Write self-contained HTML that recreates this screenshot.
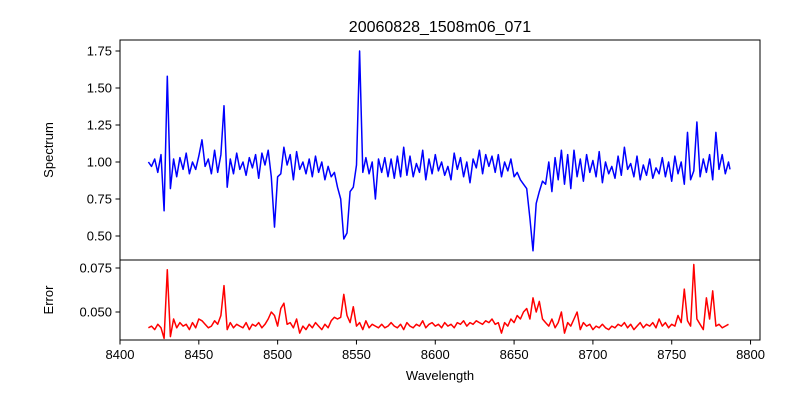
<!DOCTYPE html>
<html><head><meta charset="utf-8"><style>
html,body{margin:0;padding:0;background:#fff}
svg{display:block;font-family:"Liberation Sans","DejaVu Sans",sans-serif}
</style></head><body>
<svg id="chart" width="800" height="400" viewBox="0 0 800 400">
<rect width="800" height="400" fill="#fff"/>
<text x="440" y="32" text-anchor="middle" font-size="16" fill="#000">20060828_1508m06_071</text>
<g id="g"></g>
<text x="440" y="380" text-anchor="middle" font-size="13" fill="#000">Wavelength</text>
<text transform="translate(53,150) rotate(-90)" text-anchor="middle" font-size="13">Spectrum</text>
<text transform="translate(53,300) rotate(-90)" text-anchor="middle" font-size="13">Error</text>
</svg>
<script>
const wavelengths=[8418,8420,8422,8424,8426,8428,8430,8432,8434,8436,8438,8440,8442,8444,8446,8448,8450,8452,8454,8456,8458,8460,8462,8464,8466,8468,8470,8472,8474,8476,8478,8480,8482,8484,8486,8488,8490,8492,8494,8496,8498,8500,8502,8504,8506,8508,8510,8512,8514,8516,8518,8520,8522,8524,8526,8528,8530,8532,8534,8536,8538,8540,8542,8544,8546,8548,8550,8552,8554,8556,8558,8560,8562,8564,8566,8568,8570,8572,8574,8576,8578,8580,8582,8584,8586,8588,8590,8592,8594,8596,8598,8600,8602,8604,8606,8608,8610,8612,8614,8616,8618,8620,8622,8624,8626,8628,8630,8632,8634,8636,8638,8640,8642,8644,8646,8648,8650,8652,8654,8656,8658,8660,8662,8664,8666,8668,8670,8672,8674,8676,8678,8680,8682,8684,8686,8688,8690,8692,8694,8696,8698,8700,8702,8704,8706,8708,8710,8712,8714,8716,8718,8720,8722,8724,8726,8728,8730,8732,8734,8736,8738,8740,8742,8744,8746,8748,8750,8752,8754,8756,8758,8760,8762,8764,8766,8768,8770,8772,8774,8776,8778,8780,8782,8784,8786,8787];
const spectrum=[1.00,0.97,1.02,0.93,1.05,0.67,1.58,0.82,1.02,0.90,1.03,0.95,1.06,0.92,1.00,0.95,1.04,1.15,0.97,1.02,0.92,1.08,0.93,1.05,1.38,0.83,1.02,0.92,1.06,0.95,1.00,0.91,1.03,0.96,1.05,0.89,1.06,0.98,1.08,0.90,0.56,0.90,0.92,1.10,0.98,1.05,0.88,1.07,0.95,1.00,0.92,1.02,0.90,1.04,0.93,1.00,0.88,0.97,0.90,0.93,0.83,0.75,0.48,0.52,0.80,0.83,0.98,1.75,0.93,1.03,0.92,1.00,0.75,1.02,0.93,1.03,0.90,1.02,0.89,1.04,0.90,1.10,0.91,1.04,0.90,0.99,0.93,1.08,0.88,1.02,0.92,1.05,0.94,1.00,0.91,0.97,0.88,1.06,0.95,1.03,0.90,1.00,0.86,1.02,0.96,1.08,0.92,1.05,0.97,1.04,0.93,1.05,0.90,1.00,0.94,1.02,0.90,0.93,0.88,0.85,0.82,0.62,0.40,0.72,0.80,0.87,0.85,1.00,0.80,1.03,0.88,1.08,0.85,1.05,0.82,1.08,0.90,1.02,0.87,1.05,0.93,1.01,0.90,1.07,0.86,1.00,0.92,0.97,0.89,1.04,0.91,1.10,0.95,0.99,0.90,1.04,0.88,0.98,0.91,1.02,0.89,0.96,0.92,1.03,0.90,1.00,0.87,1.04,0.92,1.00,0.85,1.20,0.88,0.94,1.27,0.90,1.02,0.93,1.05,0.88,1.20,0.95,1.05,0.92,1.00,0.95];
const errors=[0.041,0.042,0.040,0.043,0.041,0.035,0.074,0.036,0.046,0.041,0.044,0.042,0.043,0.040,0.044,0.041,0.046,0.045,0.043,0.041,0.042,0.045,0.043,0.048,0.065,0.040,0.044,0.041,0.043,0.042,0.041,0.044,0.040,0.043,0.042,0.044,0.041,0.043,0.046,0.050,0.048,0.042,0.052,0.055,0.043,0.044,0.041,0.046,0.038,0.042,0.040,0.043,0.041,0.044,0.042,0.040,0.043,0.041,0.045,0.047,0.046,0.047,0.060,0.048,0.044,0.053,0.042,0.044,0.040,0.045,0.041,0.043,0.042,0.041,0.043,0.041,0.042,0.044,0.042,0.041,0.043,0.040,0.044,0.042,0.041,0.043,0.042,0.045,0.041,0.043,0.044,0.042,0.043,0.041,0.044,0.042,0.043,0.041,0.044,0.043,0.045,0.042,0.044,0.043,0.045,0.044,0.043,0.045,0.044,0.046,0.043,0.044,0.038,0.044,0.042,0.046,0.044,0.048,0.046,0.050,0.052,0.046,0.058,0.050,0.056,0.046,0.044,0.042,0.046,0.041,0.044,0.050,0.038,0.044,0.042,0.046,0.050,0.040,0.044,0.042,0.043,0.040,0.042,0.041,0.043,0.041,0.040,0.042,0.041,0.043,0.042,0.044,0.041,0.043,0.040,0.042,0.044,0.041,0.043,0.042,0.044,0.041,0.046,0.042,0.044,0.041,0.043,0.042,0.048,0.044,0.063,0.045,0.042,0.077,0.046,0.043,0.040,0.058,0.046,0.062,0.042,0.043,0.041,0.042,0.043];
const xTicks=[8400,8450,8500,8550,8600,8650,8700,8750,8800];
const yTicksTop=[0.50,0.75,1.00,1.25,1.50,1.75];
const yTicksBot=[0.050,0.075];

const L=120,R=760,X0=8400,X1=8806;
const xs=v=>L+(v-X0)*(R-L)/(X1-X0);
const yTop=v=>236-(v-0.5)*148;
const yBot=v=>312-(v-0.050)*1760;
const NS='http://www.w3.org/2000/svg';
const g=document.getElementById('g');
function mk(tag,attrs){const e=document.createElementNS(NS,tag);for(const k in attrs)e.setAttribute(k,attrs[k]);g.appendChild(e);return e;}

let d='';wavelengths.forEach((w,i)=>{d+=(i?'L':'M')+xs(w).toFixed(1)+','+yTop(spectrum[i]).toFixed(1);});
const p1=mk('path',{d:d,fill:'none',stroke:'#0000ff','stroke-width':1.5,'stroke-linejoin':'round'});


d='';wavelengths.forEach((w,i)=>{d+=(i?'L':'M')+xs(w).toFixed(1)+','+yBot(errors[i]).toFixed(1);});
const p2=mk('path',{d:d,fill:'none',stroke:'#ff0000','stroke-width':1.5,'stroke-linejoin':'round'});



const f1=mk('rect',{x:L,y:40,width:R-L,height:220,fill:'none',stroke:'#000','stroke-width':1});


const f2=mk('rect',{x:L,y:260,width:R-L,height:80,fill:'none',stroke:'#000','stroke-width':1});



xTicks.forEach(t=>{
  const x=xs(t);
  const tk=mk('line',{x1:x,x2:x,y1:340,y2:344.5,stroke:'#000'});
  
  
  const tx=mk('text',{x:x,y:359,'text-anchor':'middle','font-size':13});
  tx.textContent=t;
  
  
});
yTicksTop.forEach(t=>{
  const y=yTop(t);
  const tk=mk('line',{x1:L-4.5,x2:L,y1:y,y2:y,stroke:'#000'});
  
  
  const tx=mk('text',{x:L-8,y:y+4.5,'text-anchor':'end','font-size':13});
  tx.textContent=t.toFixed(2);
  
  
});
yTicksBot.forEach(t=>{
  const y=yBot(t);
  const tk=mk('line',{x1:L-4.5,x2:L,y1:y,y2:y,stroke:'#000'});
  
  
  const tx=mk('text',{x:L-8,y:y+4.5,'text-anchor':'end','font-size':13});
  tx.textContent=t.toFixed(3);
  
  
});
</script>
</body></html>
